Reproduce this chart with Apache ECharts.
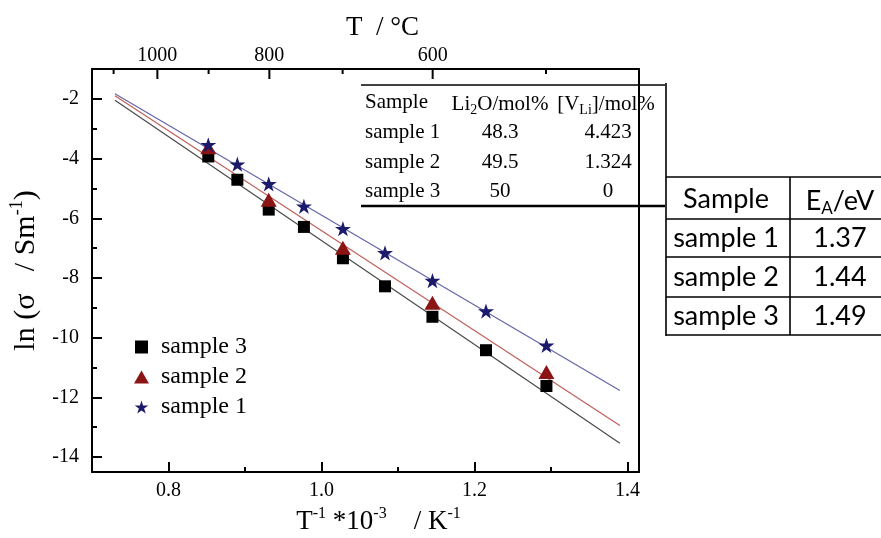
<!DOCTYPE html>
<html><head><meta charset="utf-8">
<script src="https://cdn.jsdelivr.net/npm/echarts@6/dist/echarts.min.js"></script>
<style>html,body{margin:0;padding:0;background:#fff}#c{width:881px;height:538px}</style>
</head><body><div id="c"></div>
<script>
// ---- data ----
const invT3 = [0.852, 0.890, 0.931, 0.977, 1.028, 1.083, 1.145, 1.215, 1.294];
const sample3 = [-3.93, -4.71, -5.71, -6.29, -7.34, -8.28, -9.30, -10.42, -11.62];
const invT2 = [0.852, 0.931, 1.028, 1.145, 1.294];
const sample2 = [-3.62, -5.38, -6.99, -8.83, -11.15];
const invT1 = [0.852, 0.890, 0.931, 0.977, 1.028, 1.083, 1.145, 1.215, 1.294];
const sample1 = [-3.54, -4.19, -4.85, -5.60, -6.35, -7.16, -8.09, -9.11, -10.26];
const fitX = [0.730, 1.390];
const fit1 = [-1.83, -11.77];
const fit2 = [-1.90, -12.94];
const fit3 = [-2.05, -13.54];
const seriesNames = ['sample 3', 'sample 2', 'sample 1'];
const xMajor = [0.8, 1.0, 1.2, 1.4];
const xMinor = [0.9, 1.1, 1.3];
const yMajor = [-14, -12, -10, -8, -6, -4, -2];
const yMinor = [-13, -11, -9, -7, -5, -3];
const topMajorC = [1000, 800, 600];
const topMinorC = [1100, 900, 700, 500];
const innerHead = ['Sample', '{m|Li}{s|2}{m|O/mol%}', '{m|[V}{s|Li}{m|]/mol%}'];
const innerNames = ['sample 1', 'sample 2', 'sample 3'];
const li2oPct = ['48.3', '49.5', '50'];
const vliPct = ['4.423', '1.324', '0'];
const eaHead = ['Sample', '{m|E}{s|A}{m|/eV}'];
const eaNames = ['sample 1', 'sample 2', 'sample 3'];
const eaValues = ['1.37', '1.44', '1.49'];

// ---- styles ----
const SERIF = 'Liberation Serif';
const XMIN = 0.7, XMAX = 1.415, YMIN = -14.5, YMAX = -1;
const starPath = 'path://M50,0 L61.2,34.5 L97.6,34.5 L68.2,55.9 L79.4,90.5 L50,69.1 L20.6,90.5 L31.8,55.9 L2.4,34.5 L38.8,34.5 Z';
const squarePath = 'path://M0,0 L10,0 L10,10 L0,10 Z';
const C3 = '#000000', C2 = '#8b1414', C1 = '#1c1a6a';
const L3 = '#4a4a4a', L2 = '#c0605a', L1 = '#6466a8';

const zip = (xs, ys) => xs.map((x, i) => [x, ys[i]]);

const chart = echarts.init(document.getElementById('c'), null, {renderer: 'canvas'});

function supRich(size) {
  return {
    m: {fontFamily: SERIF, fontSize: size, lineHeight: size + 6, color: '#000'},
    sup: {fontFamily: SERIF, fontSize: Math.round(size * 0.6), lineHeight: Math.round(size * 0.6), verticalAlign: 'top', color: '#000'}
  };
}

const topTicks = topMajorC.map(T => [1000 / (T + 273.15), YMAX, 1, T])
  .concat(topMinorC.map(T => [1000 / (T + 273.15), YMAX, 0, T]));

// ---- tables (graphic) ----
const graphics = [];
function txt(x, y, text, opts) {
  graphics.push({type: 'text', silent: true, style: Object.assign({x, y, text, fill: '#000', verticalAlign: 'middle'}, opts)});
}
function ln(x1, y1, x2, y2, w) {
  graphics.push({type: 'line', silent: true, shape: {x1, y1, x2, y2}, style: {stroke: '#000', lineWidth: w}});
}
const innerFont = {fontFamily: SERIF, fontSize: 21};
const innerRich = {
  m: {fontFamily: SERIF, fontSize: 21, lineHeight: 27, fill: '#000'},
  s: {fontFamily: SERIF, fontSize: 14, lineHeight: 14, verticalAlign: 'bottom', fill: '#000'}
};
const innerColX = [365, 500, 608];
const innerRowY = [102, 132, 162, 191];
txt(innerColX[0], innerRowY[0], innerHead[0], Object.assign({align: 'left'}, innerFont));
txt(innerColX[1], innerRowY[0] + 2, innerHead[1], {align: 'center', rich: innerRich});
txt(innerColX[2] - 2, innerRowY[0] + 2, innerHead[2], {align: 'center', rich: innerRich});
innerNames.forEach((n, i) => {
  txt(innerColX[0], innerRowY[i + 1], n, Object.assign({align: 'left'}, innerFont));
  txt(innerColX[1], innerRowY[i + 1], li2oPct[i], Object.assign({align: 'center'}, innerFont));
  txt(innerColX[2], innerRowY[i + 1], vliPct[i], Object.assign({align: 'center'}, innerFont));
});
ln(361, 85, 665, 85, 1.3);
ln(361, 206, 665, 206, 2.5);
ln(666, 83, 666, 336, 1.6);

const SANS = 'Lato';
const eaFont = {fontFamily: SANS, fontSize: 27};
const eaRich = {
  m: {fontFamily: SANS, fontSize: 27, lineHeight: 33, fill: '#000'},
  s: {fontFamily: SANS, fontSize: 17, lineHeight: 17, verticalAlign: 'bottom', fill: '#000'}
};
const eaColX = [726, 840];
const eaRowY = [199, 238, 277, 316];
txt(eaColX[0], eaRowY[0], eaHead[0], Object.assign({align: 'center'}, eaFont));
txt(eaColX[1], eaRowY[0] + 2, eaHead[1], {align: 'center', rich: eaRich});
eaNames.forEach((n, i) => {
  txt(eaColX[0], eaRowY[i + 1], n, Object.assign({align: 'center'}, eaFont));
  txt(eaColX[1], eaRowY[i + 1], eaValues[i], Object.assign({align: 'center'}, eaFont));
});
[177, 219, 257, 297, 335].forEach(y => ln(666, y, 890, y, 1.6));
ln(790, 177, 790, 335, 1.6);

const axisCommon = {type: 'value', splitLine: {show: false}, min: XMIN, max: XMAX};

const option = {
  animation: false,
  backgroundColor: '#fff',
  grid: {left: 92, top: 69, right: 242, bottom: 66, containLabel: false, outerBoundsMode: 'none'},
  legend: {
    orient: 'vertical', left: 129, top: 330, itemWidth: 15, itemHeight: 13, itemGap: 6,
    textStyle: {fontFamily: SERIF, fontSize: 24, color: '#000', padding: [0, 0, 0, 7]},
    data: [{name: seriesNames[0], icon: squarePath}, {name: seriesNames[1], icon: 'triangle'}, {name: seriesNames[2], icon: starPath}]
  },
  xAxis: [
    Object.assign({}, axisCommon, {
      position: 'bottom',
      axisLine: {onZero: false, lineStyle: {color: '#000', width: 2}},
      axisTick: {inside: true, length: 10, lineStyle: {color: '#000', width: 2}, customValues: xMajor},
      axisLabel: {customValues: xMajor, formatter: v => v.toFixed(1), fontFamily: SERIF, fontSize: 20, color: '#000', margin: 9},
      name: '{m|T}{sup|-1}{m| *10}{sup|-3}{m|    / K}{sup|-1}', nameLocation: 'middle', nameGap: 31,
      nameTextStyle: {fontFamily: SERIF, fontSize: 27, color: '#000', padding: [0, 0, 0, 26], rich: supRich(27)}
    }),
    Object.assign({}, axisCommon, {
      position: 'bottom',
      axisLine: {show: false, onZero: false},
      axisTick: {inside: true, length: 5, lineStyle: {color: '#000', width: 2}, customValues: xMinor},
      axisLabel: {show: false}
    }),
    Object.assign({}, axisCommon, {
      position: 'top',
      axisLine: {onZero: false, lineStyle: {color: '#000', width: 2}},
      axisTick: {show: false}, axisLabel: {show: false},
      name: 'T  / °C', nameLocation: 'middle', nameGap: 28,
      nameTextStyle: {fontFamily: SERIF, fontSize: 27, color: '#000', padding: [0, 0, 0, 34]}
    })
  ],
  yAxis: [
    {type: 'value', position: 'left', min: YMIN, max: YMAX, splitLine: {show: false},
      axisLine: {onZero: false, lineStyle: {color: '#000', width: 2}},
      axisTick: {inside: true, length: 10, lineStyle: {color: '#000', width: 2}, customValues: yMajor},
      axisLabel: {customValues: yMajor, formatter: v => String(v), fontFamily: SERIF, fontSize: 20, color: '#000', margin: 13},
      name: '{m|ln (σ   / Sm}{sup|-1}{m|)}', nameLocation: 'middle', nameGap: 41, nameRotate: 90,
      nameTextStyle: {fontFamily: SERIF, fontSize: 30, color: '#000', rich: supRich(30)}
    },
    {type: 'value', position: 'left', min: YMIN, max: YMAX, splitLine: {show: false},
      axisLine: {show: false, onZero: false},
      axisTick: {inside: true, length: 5, lineStyle: {color: '#000', width: 2}, customValues: yMinor},
      axisLabel: {show: false}
    },
    {type: 'value', position: 'right', min: YMIN, max: YMAX, splitLine: {show: false},
      axisLine: {onZero: false, lineStyle: {color: '#000', width: 2}},
      axisTick: {show: false}, axisLabel: {show: false}
    }
  ],
  series: [
    {type: 'line', name: 'fit 3', data: zip(fitX, fit3), showSymbol: false, silent: true, lineStyle: {color: L3, width: 1.2}, z: 1},
    {type: 'line', name: 'fit 2', data: zip(fitX, fit2), showSymbol: false, silent: true, lineStyle: {color: L2, width: 1.2}, z: 1},
    {type: 'line', name: 'fit 1', data: zip(fitX, fit1), showSymbol: false, silent: true, lineStyle: {color: L1, width: 1.2}, z: 1},
    {type: 'scatter', name: seriesNames[0], data: zip(invT3, sample3), symbol: squarePath, symbolSize: 12, itemStyle: {color: C3, opacity: 1}, z: 3},
    {type: 'scatter', name: seriesNames[1], data: zip(invT2, sample2), symbol: 'triangle', symbolSize: [16, 14], itemStyle: {color: C2, opacity: 1}, z: 4},
    {type: 'scatter', name: seriesNames[2], data: zip(invT1, sample1), symbol: starPath, symbolKeepAspect: true, symbolSize: 16, itemStyle: {color: C1, opacity: 1}, z: 5},
    {type: 'custom', name: 'topTicks', xAxisIndex: 2, yAxisIndex: 0, data: topTicks, clip: false, silent: true,
      encode: {x: 0, y: 1},
      renderItem: function (params, api) {
        const p = api.coord([api.value(0), api.value(1)]);
        const major = api.value(2) === 1;
        const children = [{type: 'line', shape: {x1: p[0], y1: p[1], x2: p[0], y2: p[1] + (major ? 10 : 5)}, style: {stroke: '#000', lineWidth: 2}}];
        if (major) {
          children.push({type: 'text', style: {x: p[0], y: p[1] - 3, text: String(api.value(3)), fill: '#000', fontFamily: SERIF, fontSize: 20, align: 'center', verticalAlign: 'bottom'}});
        }
        return {type: 'group', children};
      }
    }
  ],
  graphic: graphics
};
chart.setOption(option);
</script></body></html>
